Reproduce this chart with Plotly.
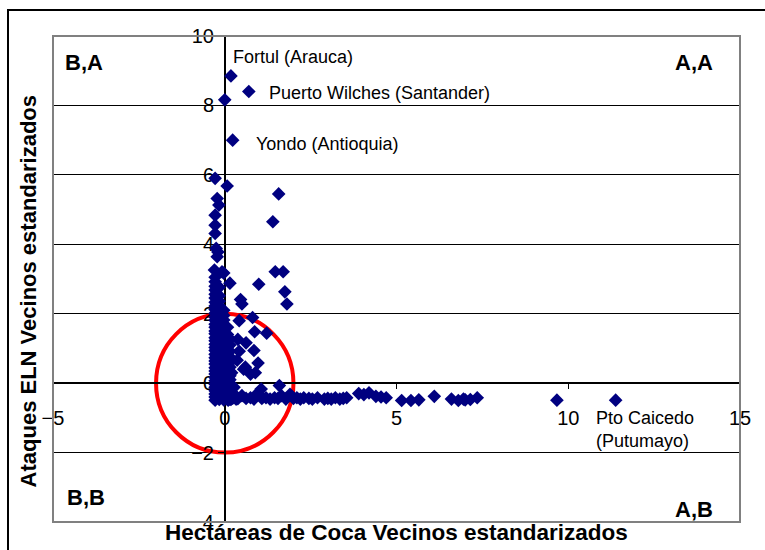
import plotly.graph_objects as go

# Municipios: hectareas de coca vecinos vs ataques ELN vecinos (estandarizados)
# nucleo denso cerca de cero coca, por columnas de x
cluster_cols_x = [-0.28, -0.16, -0.03, 0.08, 0.15]
cluster_cols_y = [
    [-0.49, -0.40, -0.31, -0.22, -0.12, -0.03, 0.07, 0.16, 0.26, 0.35, 0.44, 0.55,
     0.64, 0.73, 0.83, 0.94, 1.03, 1.12, 1.22, 1.31, 1.42, 1.50, 1.61, 1.70,
     1.81, 1.90, 2.01, 2.12, 2.22, 2.33, 2.45, 2.56, 2.68, 2.79, 2.92, 3.05],
    [-0.47, -0.37, -0.26, -0.17, -0.06, 0.04, 0.14, 0.25, 0.33, 0.45, 0.54, 0.66,
     0.74, 0.85, 0.95, 1.05, 1.16, 1.25, 1.36, 1.46, 1.57, 1.66, 1.77, 1.87,
     1.98, 2.09, 2.22, 2.36, 2.52, 2.76],
    [-0.48, -0.38, -0.28, -0.18, -0.09, 0.02, 0.11, 0.22, 0.31, 0.42, 0.52, 0.62,
     0.71, 0.81, 0.92, 1.02, 1.13, 1.24, 1.35, 1.47, 1.58, 1.69, 1.82, 1.95, 2.10],
    [-0.47, -0.36, -0.25, -0.15, -0.04, 0.08, 0.19, 0.31, 0.43, 0.57, 0.72, 0.88,
     1.05, 1.22, 1.40, 1.61],
    [-0.46, -0.35, -0.24, -0.13, -0.02, 0.10, 0.21, 0.34, 0.46, 0.60, 0.75, 0.92,
     1.10, 1.28],
]

low_x = [0.22, 0.30, 0.27, 0.20, 0.36, 0.10, 0.18, 0.25, 0.33, 0.15]
low_y = [-0.43, -0.38, -0.12, 0.30, 0.66, -0.49, -0.47, -0.30, -0.46, -0.30]

band_x = [0.25, 0.50, 0.75, 0.95, 1.20, 1.45, 1.65, 1.90, 2.10, 2.30,
          2.55, 2.70, 2.90, 3.10, 3.35, 3.55, 3.90, 4.20, 4.40, 4.70,
          5.15, 5.42, 5.65, 6.10, 6.60, 6.80, 7.00, 7.35, 9.67,
          0.38, 0.62, 0.85, 1.08, 1.32, 1.55, 1.78, 2.00, 2.20, 2.45,
          3.00, 3.22, 3.45, 4.05, 4.55, 6.95, 7.15]
band_y = [-0.42, -0.36, -0.42, -0.30, -0.42, -0.42, -0.36, -0.32, -0.42, -0.42,
          -0.46, -0.42, -0.46, -0.46, -0.46, -0.42, -0.30, -0.28, -0.38, -0.42,
          -0.50, -0.50, -0.48, -0.38, -0.46, -0.50, -0.48, -0.42, -0.49,
          -0.45, -0.44, -0.46, -0.44, -0.46, -0.44, -0.46, -0.44, -0.46, -0.44,
          -0.44, -0.42, -0.44, -0.33, -0.40, -0.46, -0.47]

upper_x = [0.00, -0.28, 0.07, 1.57, -0.22, -0.17, -0.28, 1.40, -0.28, -0.28,
           -0.25, -0.20, -0.22, -0.30, -0.08, 1.47, 1.70, 0.99, 0.15, 1.75,
           1.81, 0.46, 0.50, 0.81, 0.42, 0.87, 1.22, 0.38, 0.62, 0.85,
           0.42, 0.97, 0.60, 0.75, 0.89, 0.55, 1.59, 1.06, -0.03]
upper_y = [8.16, 5.90, 5.68, 5.45, 5.32, 5.13, 4.84, 4.65, 4.55, 4.31,
           3.88, 3.78, 3.64, 3.26, 3.21, 3.21, 3.21, 2.85, 2.88, 2.63,
           2.28, 2.41, 2.28, 1.89, 1.80, 1.48, 1.44, 1.26, 1.16, 0.94,
           0.92, 0.58, 0.46, 0.26, 0.30, 0.40, -0.07, -0.17, 3.17]

named = ["Fortul (Arauca)", "Puerto Wilches (Santander)", "Yondo (Antioquia)", "Pto Caicedo<br>(Putumayo)"]
named_x = [0.18, 0.70, 0.23, 11.38]
named_y = [8.85, 8.40, 7.00, -0.49]

quadrants = ["B,A", "A,A", "B,B", "A,B"]

FONT = "Liberation Sans, Arial, sans-serif"
NAVY = "#000080"

coca, eln = [], []
for cx, ys in zip(cluster_cols_x, cluster_cols_y):
    coca += [cx] * len(ys)
    eln += ys
coca += low_x + band_x + upper_x + named_x
eln += low_y + band_y + upper_y + named_y

fig = go.Figure()
fig.add_trace(
    go.Scatter(
        x=coca,
        y=eln,
        mode="markers",
        marker=dict(symbol="diamond", size=10.5, color=NAVY, line=dict(width=0)),
        showlegend=False,
        hoverinfo="skip",
    )
)

# circulo de referencia, radio 2
fig.add_shape(type="circle", xref="x", yref="y", x0=-2, x1=2, y0=-2, y1=2,
              line=dict(color="red", width=4), layer="between")

# marco del area de grafico y marco exterior
fig.add_shape(type="rect", xref="paper", yref="paper", x0=0, x1=1, y0=0, y1=1,
              line=dict(color="#808080", width=2))
fig.add_shape(type="rect", xref="paper", yref="paper", x0=-0.0655, x1=1.2, y0=-0.2, y1=1.0535,
              line=dict(color="black", width=2))

# etiquetas de municipios
label_pos = [(0.17, 9.40), (1.22, 8.36), (0.84, 6.89), (10.74, -1.34)]
for text, (lx, ly) in zip(named, label_pos):
    fig.add_annotation(x=lx, y=ly, text=text, showarrow=False, xanchor="left", yanchor="middle",
                       align="left", font=dict(family=FONT, size=18, color="black"))

# cuadrantes
quad_pos = [(0.0146, 0.9465, "left"), (0.9636, 0.9465, "right"),
            (0.0175, 0.0494, "left"), (0.9636, 0.0247, "right")]
for text, (qx, qy, anchor) in zip(quadrants, quad_pos):
    fig.add_annotation(x=qx, y=qy, xref="paper", yref="paper", text=f"<b>{text}</b>", showarrow=False,
                       xanchor=anchor, yanchor="middle", font=dict(family=FONT, size=22, color="black"))

# titulos de ejes
fig.add_annotation(x=0.5, y=-0.0226, xref="paper", yref="paper",
                   text="<b>Hectáreas de Coca Vecinos estandarizados</b>", showarrow=False,
                   xanchor="center", yanchor="middle", font=dict(family=FONT, size=22.5, color="black"))
fig.add_annotation(x=-0.036, y=0.475, xref="paper", yref="paper",
                   text="<b>Ataques ELN Vecinos estandarizados</b>", showarrow=False, textangle=-90,
                   xanchor="center", yanchor="middle", font=dict(family=FONT, size=22, color="black"))

fig.update_layout(
    width=765,
    height=550,
    margin=dict(l=53, r=25, t=36, b=28),
    paper_bgcolor="white",
    plot_bgcolor="white",
    xaxis=dict(range=[-5, 15], dtick=5, tick0=0, anchor="free", position=4 / 14,
               showline=True, linecolor="black", linewidth=1.5, ticks="outside", ticklen=5,
               tickcolor="black", showgrid=False, zeroline=False, ticklabelstandoff=12,
               layer="below traces",
               tickfont=dict(family=FONT, size=20, color="black")),
    yaxis=dict(range=[-4, 10], dtick=2, tick0=0, anchor="free", position=0.25,
               showline=True, linecolor="black", linewidth=1.5, ticks="outside", ticklen=6,
               tickcolor="black", showgrid=True, gridcolor="black", gridwidth=1, zeroline=False,
               layer="below traces",
               tickfont=dict(family=FONT, size=20, color="black")),
)

fig.write_html("out.html", config={"displayModeBar": False},
               post_script="document.body.style.margin='0px';")
